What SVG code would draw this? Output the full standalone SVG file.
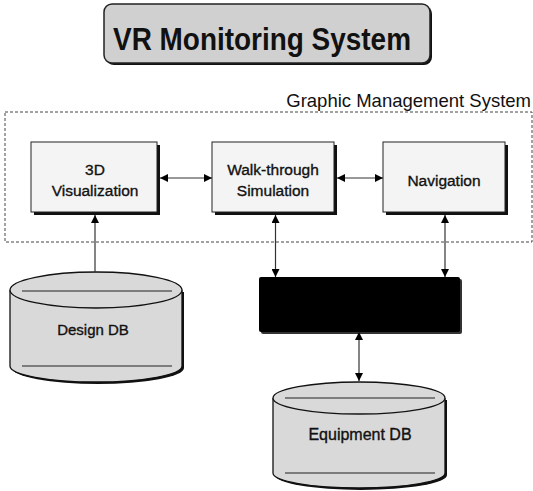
<svg xmlns="http://www.w3.org/2000/svg" width="533" height="491" viewBox="0 0 533 491">
<style>
.box{fill:#f4f4f4;stroke:#222;stroke-width:1}
.shadow{fill:#111}
.lbl{font-family:"Liberation Sans",Arial,sans-serif;font-size:15.5px;fill:#111;text-anchor:middle;stroke:#111;stroke-width:0.35}
.conn{stroke:#333;stroke-width:1.2;fill:none}
.db{fill:#d9d9d9;stroke:#111;stroke-width:1.3}
.dbl{stroke:#222;stroke-width:1.2;fill:none}
</style>
<defs>
<marker id="ah" viewBox="0 0 10 10" refX="10" refY="5" markerWidth="8" markerHeight="8" orient="auto-start-reverse" markerUnits="userSpaceOnUse"><path d="M0,0 L10,5 L0,10 z" fill="#000"/></marker>
</defs>
<rect width="533" height="491" fill="#fff"/>

<g id="title">
<rect x="106" y="6" width="326" height="59" rx="8" fill="#111"/>
<rect x="104" y="4" width="326" height="59" rx="8" fill="#d0d0d0" stroke="#222" stroke-width="1.5"/>
<text x="262" y="50" font-family="Liberation Sans, Arial, sans-serif" font-size="32" font-weight="bold" text-anchor="middle" textLength="298" lengthAdjust="spacingAndGlyphs" fill="#111">VR Monitoring System</text>
</g>

<g id="gms">
<rect x="5" y="112" width="527" height="130" fill="none" stroke="#444" stroke-width="1" stroke-dasharray="3 2"/>
<text x="531" y="107" font-family="Liberation Sans, Arial, sans-serif" font-size="18.5" text-anchor="end" fill="#111">Graphic Management System</text>
</g>

<g id="viz">
<rect class="shadow" x="34" y="145" width="126" height="70"/>
<rect class="box" x="31" y="142" width="126" height="70"/>
<text class="lbl" x="95" y="175">3D</text>
<text class="lbl" x="95" y="196">Visualization</text>
</g>

<g id="walk">
<rect class="shadow" x="215" y="145" width="122" height="70"/>
<rect class="box" x="212" y="142" width="122" height="70"/>
<text class="lbl" x="273" y="175">Walk-through</text>
<text class="lbl" x="273" y="196">Simulation</text>
</g>

<g id="nav">
<rect class="shadow" x="386" y="145" width="122" height="70"/>
<rect class="box" x="383" y="142" width="122" height="70"/>
<text class="lbl" x="444" y="186">Navigation</text>
</g>

<g id="black">
<rect x="261" y="279" width="201" height="55" rx="2" fill="#333"/>
<rect x="259" y="277" width="201" height="55" rx="2" fill="#000"/>
</g>

<g id="designdb">
<path d="M12,292 V368 A86,16 0 0 0 184,368 V292 Z" fill="#111"/>
<path class="db" d="M10,290 V366 A86,16 0 0 0 182,366 V290"/>
<ellipse class="db" cx="96" cy="290" rx="86" ry="18"/>
<path class="dbl" d="M22,291 H172 M22,366 H172"/>
<text class="lbl" x="93" y="335" style="font-size:15px">Design DB</text>
</g>

<g id="equipdb">
<path d="M275,400 V475 A86,15 0 0 0 447,475 V400 Z" fill="#111"/>
<path class="db" d="M273,398 V473 A86,15 0 0 0 445,473 V398"/>
<ellipse class="db" cx="359" cy="398" rx="86" ry="16"/>
<path class="dbl" d="M285,398 H435 M285,473 H435"/>
<text class="lbl" x="360" y="440" style="font-size:16px">Equipment DB</text>
</g>

<g id="connectors">
<line class="conn" x1="160" y1="178" x2="212" y2="178" marker-start="url(#ah)" marker-end="url(#ah)"/>
<line class="conn" x1="337" y1="178" x2="383" y2="178" marker-start="url(#ah)" marker-end="url(#ah)"/>
<line class="conn" x1="95" y1="272" x2="95" y2="215" marker-end="url(#ah)"/>
<line class="conn" x1="275.5" y1="215" x2="275.5" y2="277" marker-start="url(#ah)" marker-end="url(#ah)"/>
<line class="conn" x1="445" y1="215" x2="445" y2="277" marker-start="url(#ah)" marker-end="url(#ah)"/>
<line class="conn" x1="359" y1="332" x2="359" y2="381" marker-start="url(#ah)" marker-end="url(#ah)"/>
</g>
</svg>
